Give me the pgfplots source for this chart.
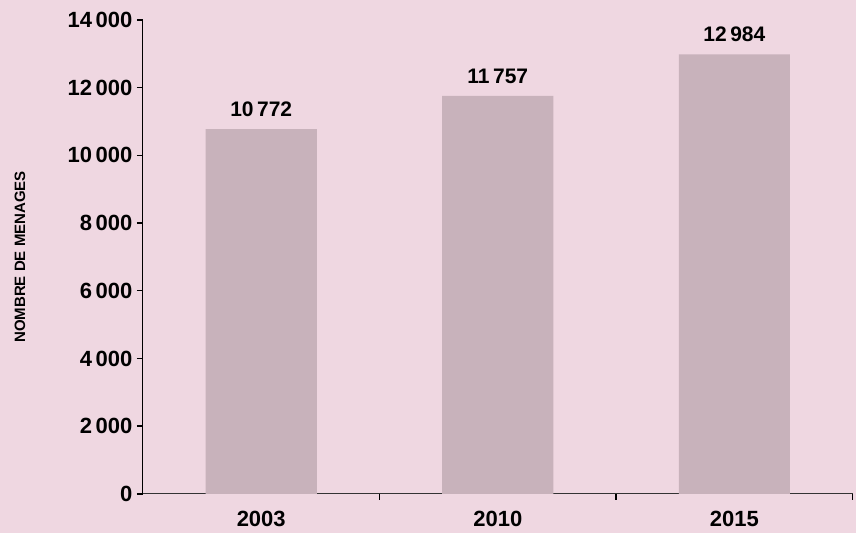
\documentclass[border=0pt]{standalone}
\usepackage{pgfplots}
\pgfplotsset{compat=1.18}
\usepackage{fontspec}
\setmainfont{Liberation Sans}
\definecolor{bgpink}{RGB}{239,215,225}
\definecolor{barcol}{RGB}{200,178,187}
\begin{document}
\begin{tikzpicture}
\fill[bgpink] (-143pt,-39pt) rectangle (713pt,494pt);
\begin{axis}[
  at={(0,0)}, anchor=south west,
  scale only axis, width=710pt, height=474pt,
  xmin=-0.5, xmax=2.5, ymin=0, ymax=14000,
  axis x line*=bottom, axis y line*=left,
  axis line style={-, line width=1.1pt},
  x axis line style={draw=black!80},
  ytick={0,2000,...,14000},
  yticklabel style={font=\fontsize{22}{24}\selectfont\bfseries, xshift=-1pt},
  xticklabel style={font=\fontsize{22}{24}\selectfont\bfseries, yshift=-14pt},
  /pgf/number format/assume math mode=true,
  /pgf/number format/.cd, 1000 sep={\,}, fixed, precision=0,
  /pgfplots/.cd,
  scaled y ticks=false,
  xtick={0.5,1.5,2.5},
  xticklabels={},
  extra x ticks={0,1,2},
  extra x tick labels={2003,2010,2015},
  extra x tick style={major tick length=0pt},
  tick align=outside,
  tick style={line width=1.5pt, black},
  major tick length=6pt,
  every axis y label/.style={at={(axis description cs:0,0.5)}, xshift=-123pt, anchor=center, rotate=90},
  ylabel={\fontsize{15}{17}\selectfont\bfseries NOMBRE DE MENAGES},
  ybar, bar width=0.47,
  nodes near coords,
  every node near coord/.append style={font=\fontsize{21}{23}\selectfont\bfseries, anchor=south, inner sep=0pt, yshift=12pt},
  clip=false,
]
\addplot[fill=barcol, draw=none] coordinates {(0,10772) (1,11757) (2,12984)};
\end{axis}
\end{tikzpicture}
\end{document}
